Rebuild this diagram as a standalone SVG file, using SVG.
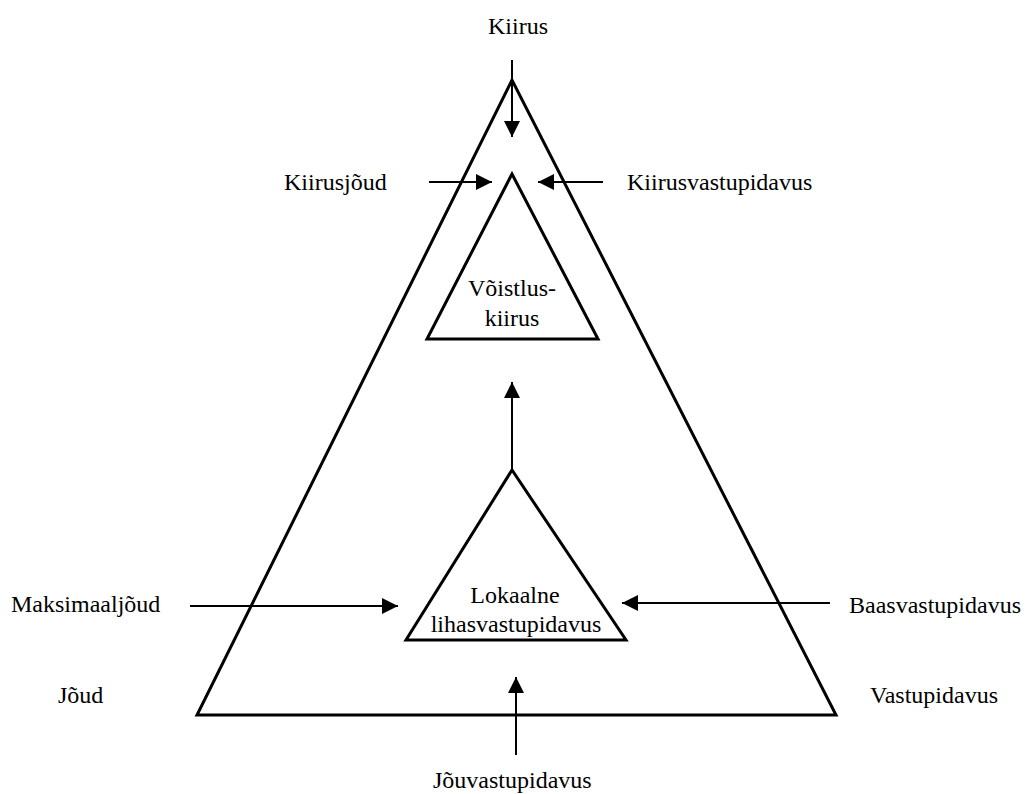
<svg xmlns="http://www.w3.org/2000/svg" width="1027" height="794" viewBox="0 0 1027 794">
<style>
text{font-family:"Liberation Serif","Times New Roman",serif;font-size:24px;fill:#000}
.tri{fill:none;stroke:#000;stroke-width:3;stroke-linejoin:miter}
.arr{stroke:#000;stroke-width:2;fill:none}
</style>
<defs>
<marker id="ah" viewBox="0 0 16 16" refX="16" refY="8" markerWidth="16" markerHeight="16" markerUnits="userSpaceOnUse" orient="auto">
<path d="M0,0 L16,8 L0,16 Z" fill="#000"/>
</marker>
</defs>
<rect width="1027" height="794" fill="#fff"/>
<g id="big-triangle">
<polygon class="tri" points="512,80 197,715 836,715"/>
<text x="58" y="703">Jõud</text>
<text x="870" y="703">Vastupidavus</text>
</g>
<g id="node-voistluskiirus">
<polygon class="tri" points="512,174 427,339 598,339"/>
<text x="512" y="296" text-anchor="middle">Võistlus-</text>
<text x="512" y="326" text-anchor="middle">kiirus</text>
</g>
<g id="node-lokaalne">
<polygon class="tri" points="512,470 406,640 626,640"/>
<text x="515" y="603" text-anchor="middle">Lokaalne</text>
<text x="516" y="632" text-anchor="middle">lihasvastupidavus</text>
</g>
<g id="label-kiirus"><text x="518" y="34" text-anchor="middle">Kiirus</text></g>
<g id="label-kiirusjoud"><text x="284" y="190">Kiirusjõud</text></g>
<g id="label-kiirusvastupidavus"><text x="627" y="190">Kiirusvastupidavus</text></g>
<g id="label-maksimaaljoud"><text x="11" y="612">Maksimaaljõud</text></g>
<g id="label-baasvastupidavus"><text x="849" y="613">Baasvastupidavus</text></g>
<g id="label-jouvastupidavus"><text x="433" y="788">Jõuvastupidavus</text></g>
<g id="connectors">
<line class="arr" x1="512" y1="60" x2="512" y2="137" marker-end="url(#ah)"/>
<line class="arr" x1="429" y1="182" x2="492" y2="182" marker-end="url(#ah)"/>
<line class="arr" x1="603" y1="182" x2="538" y2="182" marker-end="url(#ah)"/>
<line class="arr" x1="512" y1="470" x2="512" y2="382" marker-end="url(#ah)"/>
<line class="arr" x1="190" y1="606" x2="398" y2="606" marker-end="url(#ah)"/>
<line class="arr" x1="830" y1="603" x2="622" y2="603" marker-end="url(#ah)"/>
<line class="arr" x1="516" y1="755" x2="516" y2="677" marker-end="url(#ah)"/>
</g>
</svg>
